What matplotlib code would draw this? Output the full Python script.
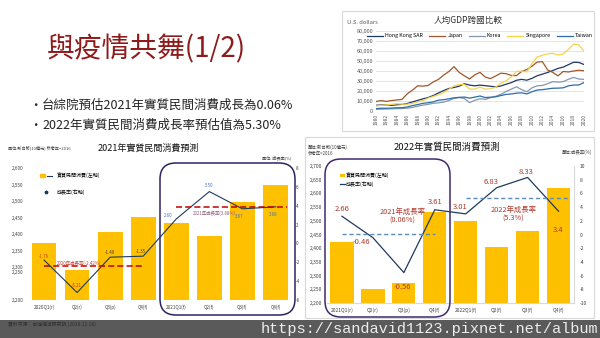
import numpy as np
import matplotlib.pyplot as plt
from matplotlib.patches import FancyBboxPatch, Rectangle, Patch
from matplotlib.lines import Line2D
from matplotlib.legend_handler import HandlerTuple

plt.rcParams['font.family'] = ['Noto Sans CJK TC', 'DejaVu Sans']

W, H = 600, 338

# ---- data: GDP per capita (US dollars)
years = np.arange(1980, 2021)
gdp_names = ['Hong Kong SAR', 'Japan', 'Korea', 'Singapore', 'Taiwan']
gdp_hk = [5700, 5990, 6130, 5600, 6210, 6540, 7440, 9030, 10560, 12060, 13370,
          15370, 17930, 20360, 22390, 23470, 24690, 27170, 25810, 25090, 25760,
          25230, 24670, 23980, 24930, 26650, 28220, 30590, 31520, 30700, 32550,
          35140, 36710, 38400, 40320, 42430, 43730, 46160, 48540, 48360, 46320]
gdp_jp = [9460, 10360, 9580, 10420, 10980, 11580, 17110, 20750, 25050, 24810, 25360,
          28920, 31460, 35770, 39270, 44200, 38440, 35020, 31900, 36030, 38530,
          33850, 32290, 34810, 37690, 37220, 35430, 35280, 39340, 41310, 44670,
          48760, 49180, 40900, 38480, 34960, 39380, 38890, 39850, 40550, 40110]
gdp_kr = [1700, 1870, 1990, 2180, 2400, 2480, 2830, 3550, 4750, 5820, 6610,
          7640, 8130, 8880, 10390, 12560, 13400, 12400, 8300, 10670, 12260,
          11560, 13170, 14670, 16500, 19400, 21740, 24090, 21350, 19120, 23090,
          25100, 25460, 27180, 29250, 28730, 29290, 31600, 33430, 31840, 31500]
gdp_sg = [5000, 5600, 6080, 6630, 7240, 6790, 6790, 7540, 9000, 10400, 12760,
          14500, 16140, 18300, 21550, 24940, 26260, 26380, 21820, 21800, 23850,
          21700, 22160, 23730, 27610, 29960, 33770, 39430, 39720, 38930, 47240,
          53890, 55550, 56970, 57560, 55650, 56830, 61180, 66680, 65830, 59800]
gdp_tw = [2390, 2730, 2710, 2870, 3230, 3320, 4040, 5350, 6370, 7630, 8220,
          9120, 10770, 11260, 12150, 13130, 13600, 13900, 12840, 13820, 14940,
          13410, 13750, 14120, 15360, 16530, 16980, 17760, 18130, 16990, 19200,
          20870, 21300, 21970, 22670, 22780, 23090, 25080, 25840, 25910, 28380]

# ---- data: 2021 forecast chart
q21_labels = ['2020Q1(r)', 'Q2(r)', 'Q3(p)', 'Q4(f)', '2021Q1(f)', 'Q2(f)', 'Q3(f)', 'Q4(f)']
q21_consumption = [2372, 2268, 2407, 2451, 2433, 2394, 2498, 2548]
q21_growth = [-1.76, -5.21, -1.46, -1.35, 2.60, 5.50, 3.67, 3.88]
q21_avg = [-2.42, 3.88]

# ---- data: 2022 forecast chart
q22_labels = ['2021Q1(r)', 'Q2(r)', 'Q3(p)', 'Q4(f)', '2022Q1(f)', 'Q2(f)', 'Q3(f)', 'Q4(f)']
q22_consumption = [2424, 2250, 2272, 2533, 2499, 2405, 2462, 2621]
q22_growth = [2.66, -0.46, -5.56, 3.61, 3.01, 6.83, 8.33, 3.4]
q22_growth_text = ['2.66', '-0.46', '-0.56', '3.61', '3.01', '6.83', '8.33', '3.4']
q22_avg = [0.06, 5.3]

GOLD = '#FFC000'
NAVY = '#1F3A5F'


def rect(x0, y0, x1, y1):
    return [x0 / W, 1 - y1 / H, (x1 - x0) / W, (y1 - y0) / H]


fig = plt.figure(figsize=(6, 3.38), dpi=100)
fig.patch.set_facecolor('white')

# ================= GDP chart =================
ax_g = fig.add_axes(rect(376, 30.7, 584, 111))
gdp_colors = ['#1F3864', '#A0572A', '#8497B0', '#F5D34A', '#2E6DA4']
for name, vals, c in zip(gdp_names, [gdp_hk, gdp_jp, gdp_kr, gdp_sg, gdp_tw], gdp_colors):
    ax_g.plot(years, vals, color=c, lw=0.9, label=name)
ax_g.set_xlim(1980, 2020)
ax_g.set_ylim(0, 80000)
yt = np.arange(0, 80001, 10000)
ax_g.set_yticks(yt)
ax_g.set_yticklabels([f'{v:,}' for v in yt], fontsize=4, color='#595959')
ax_g.set_xticks(years[::2])
ax_g.set_xticklabels([str(y) for y in years[::2]], fontsize=3.6, color='#595959', rotation=90)
ax_g.grid(axis='y', color='#D9D9D9', lw=0.5)
ax_g.set_axisbelow(True)
for s in ax_g.spines.values():
    s.set_visible(False)
ax_g.tick_params(length=0, pad=2)
ax_g.legend(loc='center', bbox_to_anchor=(0.5, 0.935), ncol=5, fontsize=3.8, frameon=False,
            handlelength=3, handletextpad=0.4, columnspacing=1.2)

# ================= 2021 chart (left) =================
brk_vals = [2200, 2250, 2300, 2600]
brk_pos = [0, 28, 33, 132]
ax_l = fig.add_axes(rect(27.5, 168, 292, 300))
ax_l.set_yscale('function', functions=(lambda v: np.interp(v, brk_vals, brk_pos),
                                       lambda p: np.interp(p, brk_pos, brk_vals)))
x = np.arange(len(q21_labels))
bars_l = ax_l.bar(x, np.array(q21_consumption) - 2200, bottom=2200, width=0.75, color=GOLD)
ax_l.set_ylim(2200, 2600)
lt = np.arange(2200, 2601, 50)
ax_l.set_yticks(lt)
ax_l.set_yticklabels([f'{v:,}' for v in lt], fontsize=3.3, color='#404040')
ax_l.set_xlim(-0.5, 7.5)
ax_l.set_xticks(x)
ax_l.set_xticklabels(q21_labels, fontsize=3.3, color='#404040')
ax_l.tick_params(length=0, pad=3)
for s in ax_l.spines.values():
    s.set_visible(False)
ax_l.patch.set_alpha(0)

ax_l2 = ax_l.twinx()
ax_l2.plot(x, q21_growth, color=NAVY, lw=0.8)
ax_l2.set_ylim(-6, 8)
ax_l2.set_yticks(np.arange(-6, 9, 2))
ax_l2.set_yticklabels([str(v) for v in np.arange(-6, 9, 2)], fontsize=3.3, color='#404040')
ax_l2.tick_params(length=0, pad=3)
for s in ax_l2.spines.values():
    s.set_visible(False)
ax_l2.hlines(q21_avg[0], 0, 3, colors='#C00000', linestyles=(0, (4, 2)), lw=1.1)
ax_l2.hlines(q21_avg[1], 4, 7.35, colors='#C00000', linestyles=(0, (4, 2)), lw=1.1)
l_off = [(0, 4), (0, 7), (0, 5), (-2, 5), (-8, 3), (0, 6), (-3, -8), (-2, -8)]
l_col = ['#D04020', '#C03020', '#404040', '#404040', '#4472C4', '#4472C4', '#4472C4', '#4472C4']
for i, v in enumerate(q21_growth):
    ax_l2.annotate(f'{v:.2f}', (x[i], v), xytext=l_off[i], textcoords='offset pixels',
                   ha='center', va='center', fontsize=3.2, color=l_col[i])
ax_l2.text(0.4, q21_avg[0], f'2020年成長率({q21_avg[0]:.2f}%)', fontsize=3.2,
           color='#C0392B', va='bottom')
ax_l2.text(4.5, q21_avg[1] - 0.35, f'2021年成長率({q21_avg[1]:.2f}%)', fontsize=3.2,
           color='#8E5A7A', va='top')
ax_l2.legend(handles=[(Patch(color=GOLD), Line2D([], [], color=NAVY, lw=0.8)),
                      Line2D([], [], color=NAVY, marker='*', ls='none', ms=2.5)],
             labels=['實質民間消費(左軸)', '成長率(右軸)'],
             handler_map={tuple: HandlerTuple(ndivide=None, pad=0.3)},
             loc='upper left', bbox_to_anchor=(0.03, 1.0), fontsize=3.6, frameon=False,
             handlelength=2.5, labelspacing=2.2, handleheight=0.6)

# ================= 2022 chart (right) =================
ax_r = fig.add_axes(rect(326.5, 166, 574, 303))
x2 = np.arange(len(q22_labels))
ax_r.bar(x2, np.array(q22_consumption) - 2200, bottom=2200, width=0.75, color=GOLD,
         label='實質民間消費(左軸)')
ax_r.set_ylim(2200, 2700)
rt = np.arange(2200, 2701, 50)
ax_r.set_yticks(rt)
ax_r.set_yticklabels([f'{v:,}' for v in rt], fontsize=3.6, color='#404040')
ax_r.set_xlim(-0.5, 7.5)
ax_r.set_xticks(x2)
ax_r.set_xticklabels(q22_labels, fontsize=3.6, color='#404040')
ax_r.tick_params(length=0, pad=3)
for k, s in ax_r.spines.items():
    s.set_visible(k == 'bottom')
    s.set_color('#D9D9D9')
ax_r.patch.set_alpha(0)

ax_r2 = ax_r.twinx()
ax_r2.plot(x2, q22_growth, color=NAVY, lw=0.9, label='成長率(右軸)')
ax_r2.set_ylim(-10, 10)
ax_r2.set_yticks(np.arange(-10, 11, 2))
ax_r2.set_yticklabels([str(v) for v in np.arange(-10, 11, 2)], fontsize=3.6, color='#404040')
ax_r2.tick_params(length=0, pad=4)
for k, s in ax_r2.spines.items():
    s.set_visible(k == 'right')
    s.set_color('#D9D9D9')
ax_r2.hlines(q22_avg[0], 0, 3, colors='#5B8DB8', linestyles=(0, (3, 2)), lw=1.0)
ax_r2.hlines(q22_avg[1], 4, 7.33, colors='#5B8DB8', linestyles=(0, (3, 2)), lw=1.0)
r_off = [(0, 7), (-11, -4), (-1, -14), (0, 8), (-6, 7), (-6, 6), (-2, 5), (0, -19)]
for i, v in enumerate(q22_growth):
    ax_r2.annotate(q22_growth_text[i], (x2[i], v), xytext=r_off[i], textcoords='offset pixels',
                   ha='center', va='center', fontsize=5.5, color='#B0392F')
ax_r2.text(1.95, -0.8 + 3.4, f'2021年成長率\n({q22_avg[0]:.2f}%)', fontsize=5.3,
           color='#B0392F', ha='center', va='center', linespacing=1.1)
ax_r2.text(5.55, 5.3 - 2.4, f'2022年成長率\n({q22_avg[1]}%)', fontsize=5.3,
           color='#B0392F', ha='center', va='center', linespacing=1.1)
h1, lb1 = ax_r.get_legend_handles_labels()
h2, lb2 = ax_r2.get_legend_handles_labels()
ax_r2.legend(h1 + h2, lb1 + lb2, loc='upper left', bbox_to_anchor=(0.035, 0.985),
             fontsize=3.6, frameon=False, handlelength=1.0, handletextpad=0.3,
             labelspacing=0.5)

# ================= slide overlay =================
ov = fig.add_axes([0, 0, 1, 1], zorder=10)
ov.set_xlim(0, W)
ov.set_ylim(H, 0)
ov.axis('off')
ov.patch.set_alpha(0)

ov.text(47, 49, '與疫情共舞(1/2)', fontsize=20, color='#8E1B1B', va='center')
ov.text(29, 105, '•', fontsize=9, color='#222222', va='center')
ov.text(42, 105, '台綜院預估2021年實質民間消費成長為0.06%', fontsize=9, color='#222222', va='center')
ov.text(29, 125, '•', fontsize=9, color='#222222', va='center')
ov.text(42, 125, '2022年實質民間消費成長率預估值為5.30%', fontsize=9, color='#222222', va='center')

# GDP chart frame and texts
ov.add_patch(Rectangle((342, 11), 252, 120, fill=False, ec='#D9D9D9', lw=0.8))
ov.text(468, 20, '人均GDP跨國比較', fontsize=6.2, color='#333333', ha='center', va='center')
ov.text(347, 23, 'U.S. dollars', fontsize=4.2, color='#595959', va='center')

# left chart texts
ov.text(8, 148, '單位:新台幣(10億元) 參考年=2016', fontsize=3, color='#404040', va='center')
ov.text(148, 148, '2021年實質民間消費預測', fontsize=6.5, color='#111111', ha='center', va='center')
ov.text(262, 158, '單位: 成長率(%)', fontsize=3, color='#404040', va='center')
ov.add_patch(FancyBboxPatch((160, 163), 135, 152, boxstyle='round,pad=0,rounding_size=16',
                            fill=False, ec='#2B2463', lw=1.1))

# right chart texts
ov.add_patch(Rectangle((305, 137), 289, 181, fill=False, ec='#D9D9D9', lw=0.8))
ov.text(308, 147, '單位:新台幣(10億元)', fontsize=3.2, color='#404040', va='center')
ov.text(308, 153, '參考年=2016', fontsize=3.2, color='#404040', va='center')
ov.text(447, 147, '2022年實質民間消費預測', fontsize=6.8, color='#111111', ha='center', va='center')
ov.text(592, 152, '單位:成長率(%)', fontsize=3.2, color='#404040', ha='right', va='center')
ov.add_patch(FancyBboxPatch((325, 159), 125, 158, boxstyle='round,pad=0,rounding_size=16',
                            fill=False, ec='#3F2A6E', lw=1.1))

# footer band
ov.add_patch(Rectangle((0, 320), W, 18, color='#5A5A5A', lw=0))
ov.text(8, 324, '資料來源：台灣經濟研究院 (2020.12.18)', fontsize=3.5, color='#2E2E2E', va='center')
ov.text(598, 329, 'https://sandavid1123.pixnet.net/album', fontsize=11,
        family='Liberation Mono', color='#EDEDED', ha='right', va='center')

fig.savefig('out.png', dpi=100)
